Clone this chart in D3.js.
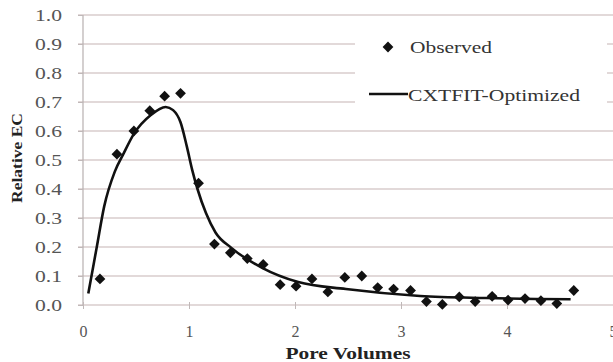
<!DOCTYPE html>
<html><head><meta charset="utf-8">
<script src="https://cdn.jsdelivr.net/npm/d3@7"></script>
<style>html,body{margin:0;padding:0;background:#fff;overflow:hidden}</style>
</head><body>
<svg id="c" width="613" height="362"></svg>
<script>
const obsX = [0.16,0.32,0.48,0.63,0.77,0.92,1.09,1.24,1.39,1.55,1.70,1.86,2.01,2.16,2.31,2.47,2.63,2.78,2.93,3.09,3.24,3.39,3.55,3.70,3.86,4.01,4.17,4.32,4.47,4.63];
const obsY = [0.09,0.52,0.60,0.67,0.72,0.73,0.42,0.21,0.18,0.16,0.14,0.07,0.065,0.09,0.045,0.095,0.10,0.06,0.055,0.05,0.012,0.002,0.028,0.012,0.03,0.017,0.022,0.015,0.005,0.05];
const fitX = [0.05,0.1,0.13,0.2,0.3,0.38,0.48,0.64,0.78,0.85,0.92,0.98,1.03,1.08,1.16,1.25,1.40,1.69,2.03,2.48,3.18,3.8,4.6];
const fitY = [0.04,0.14,0.2,0.34,0.46,0.52,0.59,0.655,0.683,0.672,0.63,0.546,0.466,0.40,0.317,0.25,0.197,0.128,0.079,0.055,0.031,0.024,0.02];
const xTicks = [0,1,2,3,4,5];
const yTicks = [0,0.1,0.2,0.3,0.4,0.5,0.6,0.7,0.8,0.9,1.0];
const legendLabels = ["Observed","CXTFIT-Optimized"];

const svg = d3.select("#c");
const x = d3.scaleLinear().domain([0,5]).range([83,613]);
const y = d3.scaleLinear().domain([0,1]).range([305,15]);
const serif = "'Liberation Serif','Times New Roman',serif";

// gridlines
svg.append("g").selectAll("line").data(yTicks).join("line")
  .attr("x1",78).attr("x2",613).attr("y1",d=>y(d)).attr("y2",d=>y(d))
  .attr("stroke","#d8cccc").attr("stroke-width",1.5);

// legend background
svg.append("rect").attr("x",355).attr("y",30).attr("width",252).attr("height",84).attr("fill","#fff");

// y axis line
svg.append("line").attr("x1",83).attr("x2",83).attr("y1",15).attr("y2",305)
  .attr("stroke","#b8b0b0").attr("stroke-width",1.2);

// x axis ticks
const xa = svg.append("g").attr("transform","translate(0,305)")
  .call(d3.axisBottom(x).tickValues(xTicks).tickFormat(d3.format("d")).tickSize(4).tickPadding(17));
xa.select(".domain").remove();
xa.selectAll("line").attr("stroke","#c0b8b8").attr("y1",-3);
xa.selectAll("text").attr("font-family",serif).attr("font-size",16).attr("fill","#555");

// y axis labels
const ya = svg.append("g").attr("transform","translate(83,0)")
  .call(d3.axisLeft(y).tickValues(yTicks).tickFormat(d3.format(".1f")).tickSize(5).tickPadding(16));
ya.select(".domain").remove();
ya.selectAll("line").attr("stroke","#c0b8b8");
ya.selectAll("text").attr("font-family",serif).attr("font-size",16).attr("fill","#555")
  .attr("textLength",27).attr("lengthAdjust","spacingAndGlyphs");

// axis titles
svg.append("text").attr("x",348).attr("y",359).attr("text-anchor","middle")
  .attr("font-family",serif).attr("font-weight","bold").attr("font-size",16).attr("fill","#222")
  .attr("textLength",125).attr("lengthAdjust","spacingAndGlyphs")
  .text("Pore Volumes");
svg.append("text").attr("transform","translate(22,158) rotate(-90)").attr("text-anchor","middle")
  .attr("font-family",serif).attr("font-weight","bold").attr("font-size",15).attr("fill","#222")
  .attr("textLength",90).attr("lengthAdjust","spacingAndGlyphs")
  .text("Relative EC");

// fitted curve
const fit = fitX.map((v,i)=>[v,fitY[i]]);
svg.append("path").datum(fit)
  .attr("d", d3.line().x(d=>x(d[0])).y(d=>y(d[1])).curve(d3.curveMonotoneX))
  .attr("fill","none").attr("stroke","#111").attr("stroke-width",2.6);

// observed points
const diamond = d3.symbol().type(d3.symbolSquare).size(58);
const obs = obsX.map((v,i)=>[v,obsY[i]]);
svg.append("g").selectAll("path").data(obs).join("path")
  .attr("d",diamond)
  .attr("transform",d=>`translate(${x(d[0])},${y(d[1])}) rotate(45)`)
  .attr("fill","#111");

// legend
svg.append("path").attr("d",diamond).attr("transform","translate(388,47) rotate(45)").attr("fill","#111");
svg.append("text").attr("x",410).attr("y",53).attr("font-family",serif).attr("font-size",16).attr("fill","#333")
  .attr("textLength",82).attr("lengthAdjust","spacingAndGlyphs").text(legendLabels[0]);
svg.append("line").attr("x1",369).attr("x2",408).attr("y1",94).attr("y2",94).attr("stroke","#111").attr("stroke-width",2.6);
svg.append("text").attr("x",408).attr("y",101).attr("font-family",serif).attr("font-size",16).attr("fill","#333")
  .attr("textLength",172).attr("lengthAdjust","spacingAndGlyphs").text(legendLabels[1]);
</script>
</body></html>
